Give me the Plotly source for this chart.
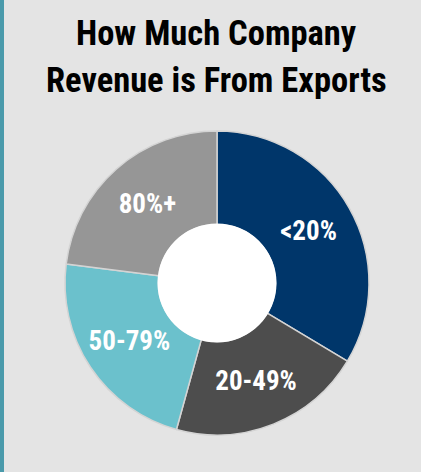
import plotly.graph_objects as go

labels = ["<20%", "20-49%", "50-79%", "80%+"]
values = [33.6, 20.7, 22.7, 23.0]
colors = ["#00366a", "#4d4d4d", "#6bc1cc", "#969696"]
title_lines = ["How Much Company", "Revenue is From Exports"]

W, H = 421, 472
cx, cy, R = 217, 283, 152
HOLE = 0.385
FONT = "Roboto Condensed, Open Sans Condensed, sans-serif"

fig = go.Figure(go.Pie(
    labels=labels,
    values=values,
    sort=False,
    direction="clockwise",
    rotation=0,
    hole=HOLE,
    marker=dict(colors=colors, line=dict(color="#d4d4d4", width=1.5)),
    textinfo="label",
    textposition="inside",
    insidetextorientation="horizontal",
    textfont=dict(family=FONT, size=27, color="white", weight="bold"),
    domain=dict(x=[(cx - R) / W, (cx + R) / W], y=[1 - (cy + R) / H, 1 - (cy - R) / H]),
    showlegend=False,
    hoverinfo="label+percent",
))

anns = []
for i, line in enumerate(title_lines):
    anns.append(dict(text=line, x=216 / W, y=1 - (11 + i * 47) / H, xref="paper", yref="paper",
                     xanchor="center", yanchor="top", showarrow=False,
                     font=dict(family=FONT, size=34.5, color="#000000", weight="bold")))

r_hole = R * HOLE + 1
fig.update_layout(
    width=W, height=H,
    margin=dict(l=0, r=0, t=0, b=0),
    paper_bgcolor="#e4e4e4",
    plot_bgcolor="#e4e4e4",
    annotations=anns,
    shapes=[
        dict(type="rect", xref="paper", yref="paper", x0=0, x1=4 / W, y0=0, y1=1,
             fillcolor="#4a9aab", line=dict(width=0), layer="above"),
        dict(type="circle", xref="paper", yref="paper",
             x0=(cx - r_hole) / W, x1=(cx + r_hole) / W,
             y0=1 - (cy + r_hole) / H, y1=1 - (cy - r_hole) / H,
             fillcolor="#ffffff", line=dict(width=0), layer="above"),
    ],
)

fig.write_html("out.html", config={"displayModeBar": False},
               post_script="document.body.style.margin='0';document.body.style.overflow='hidden';")
